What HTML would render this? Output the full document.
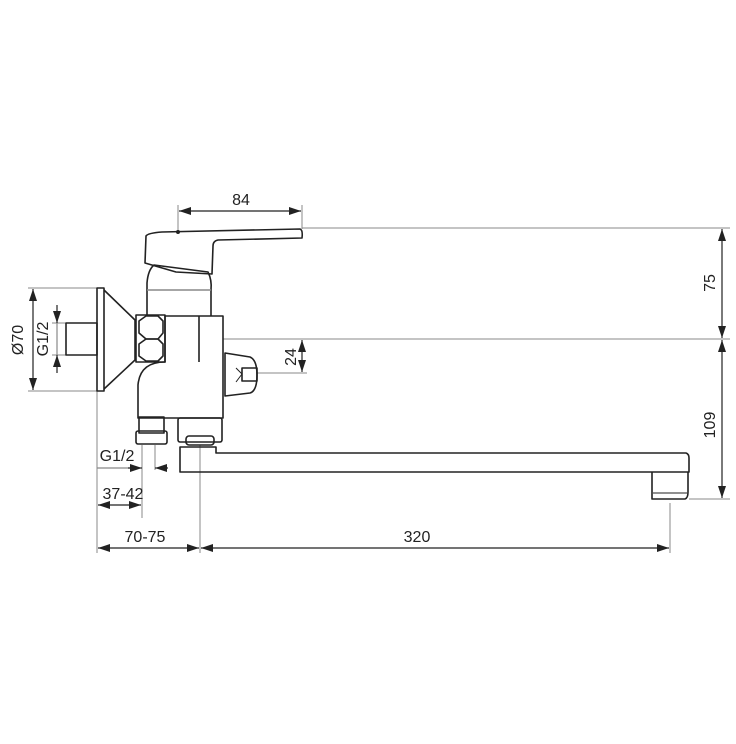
<!DOCTYPE html>
<html><head><style>
html,body{margin:0;padding:0;background:#fff;}
svg{display:block;}
text{font-family:"Liberation Sans",sans-serif;font-size:16px;fill:#222;}
</style></head><body>
<svg width="736" height="744" viewBox="0 0 736 744" xmlns="http://www.w3.org/2000/svg">
<defs>
<marker id="a" viewBox="0 0 12 8" refX="12" refY="4" markerWidth="12" markerHeight="8" orient="auto-start-reverse" markerUnits="userSpaceOnUse">
<path d="M0,0 L12,4 L0,8 z" fill="#222"/></marker>
</defs>
<g stroke="#888" stroke-width="1" fill="none">
<line x1="28" y1="288" x2="97" y2="288"/>
<line x1="28" y1="391" x2="97" y2="391"/>
<line x1="52" y1="323" x2="66" y2="323"/>
<line x1="52" y1="355" x2="66" y2="355"/>
<line x1="178" y1="205" x2="178" y2="233"/>
<line x1="302" y1="205" x2="302" y2="229"/>
<line x1="302" y1="228" x2="730" y2="228"/>
<line x1="223" y1="339" x2="730" y2="339"/>
<line x1="257" y1="373" x2="307" y2="373"/>
<line x1="689" y1="499" x2="730" y2="499"/>
<line x1="97" y1="391" x2="97" y2="553"/>
<line x1="200" y1="445" x2="200" y2="553"/>
<line x1="670" y1="503" x2="670" y2="553"/>
<line x1="142" y1="445" x2="142" y2="518"/>
<line x1="155" y1="445" x2="155" y2="470"/>
</g>
<g stroke="#222" stroke-width="1.2" fill="none">
<line x1="33" y1="289" x2="33" y2="390" marker-start="url(#a)" marker-end="url(#a)"/>
<line x1="57" y1="305" x2="57" y2="323" marker-end="url(#a)"/>
<line x1="57" y1="373" x2="57" y2="355" marker-end="url(#a)"/>
<line x1="57" y1="323" x2="57" y2="355" stroke="#888"/>
<line x1="179" y1="211" x2="301" y2="211" marker-start="url(#a)" marker-end="url(#a)"/>
<line x1="722" y1="229" x2="722" y2="338" marker-start="url(#a)" marker-end="url(#a)"/>
<line x1="722" y1="340" x2="722" y2="498" marker-start="url(#a)" marker-end="url(#a)"/>
<line x1="302" y1="340" x2="302" y2="372" marker-start="url(#a)" marker-end="url(#a)"/>
<line x1="97" y1="468" x2="130" y2="468" stroke="#888"/>
<line x1="128" y1="468" x2="142" y2="468" marker-end="url(#a)"/>
<line x1="168" y1="468" x2="155" y2="468" marker-end="url(#a)"/>
<line x1="98" y1="505" x2="141" y2="505" marker-start="url(#a)" marker-end="url(#a)"/>
<line x1="98" y1="548" x2="199" y2="548" marker-start="url(#a)" marker-end="url(#a)"/>
<line x1="201" y1="548" x2="669" y2="548" marker-start="url(#a)" marker-end="url(#a)"/>
</g>
<g stroke="#222" stroke-width="1.6" fill="none" stroke-linejoin="round">
<rect x="97" y="288" width="7" height="103"/>
<path d="M104,290 L135,320 L135,360 L104,389"/>
<rect x="66" y="323" width="31" height="32"/>
<rect x="136" y="315" width="29" height="47"/>
<path d="M139,321 L146,316 L158,316 L163,321 L163,333 L158,339 L146,339 L139,333 Z"/>
<path d="M139,344 L146,339 L158,339 L163,344 L163,356 L158,361 L146,361 L139,356 Z"/>
<path d="M165,316 L223,316 L223,418 L138,418 L138,385 Q140,362 165,362 Z"/>
<line x1="199" y1="316" x2="199" y2="362"/>
<path d="M147,316 L147,283 Q148,270 154,265 L208,272 Q212,280 211,290 L211,316"/>
<line x1="147" y1="290" x2="211" y2="290" stroke="#888"/>
<path d="M146,236 Q148,233 162,232 L300,229 Q303,230 302,238 L218,240 Q213,241 213,246 L212,274 L176,272 L145,263 Z"/>
<circle cx="178" cy="232" r="1.2" fill="#222"/>
<path d="M225,353 L250,357 Q257,360 257,375 Q257,391 250,393 L225,396 Z"/>
<rect x="242" y="368" width="15" height="13"/>
<path d="M236,368 L242,374 L236,382" stroke-width="1"/>
<rect x="139" y="417" width="25" height="16"/>
<rect x="136" y="431" width="31" height="13" rx="2"/>
<rect x="178" y="418" width="44" height="24" rx="2"/>
<rect x="186" y="436" width="28" height="9" rx="3"/>
<path d="M180,447 L216,447 L216,453 L686,453 Q689,454 689,458 L689,472 L180,472 Z"/>
<path d="M652,472 L652,499 L685,499 Q688,498 688,492 L688,472"/>
<line x1="653" y1="493" x2="687" y2="493" stroke-width="1"/>
</g>
<text x="241" y="205" text-anchor="middle">84</text>
<text x="145" y="542" text-anchor="middle">70-75</text>
<text x="417" y="542" text-anchor="middle">320</text>
<text x="123" y="499" text-anchor="middle">37-42</text>
<text x="117" y="461" text-anchor="middle">G1/2</text>
<text transform="translate(715,283) rotate(-90)" text-anchor="middle">75</text>
<text transform="translate(715,425) rotate(-90)" text-anchor="middle">109</text>
<text transform="translate(296,357) rotate(-90)" text-anchor="middle">24</text>
<text transform="translate(23,340) rotate(-90)" text-anchor="middle">Ø70</text>
<text transform="translate(48,339) rotate(-90)" text-anchor="middle">G1/2</text>
</svg>
</body></html>
